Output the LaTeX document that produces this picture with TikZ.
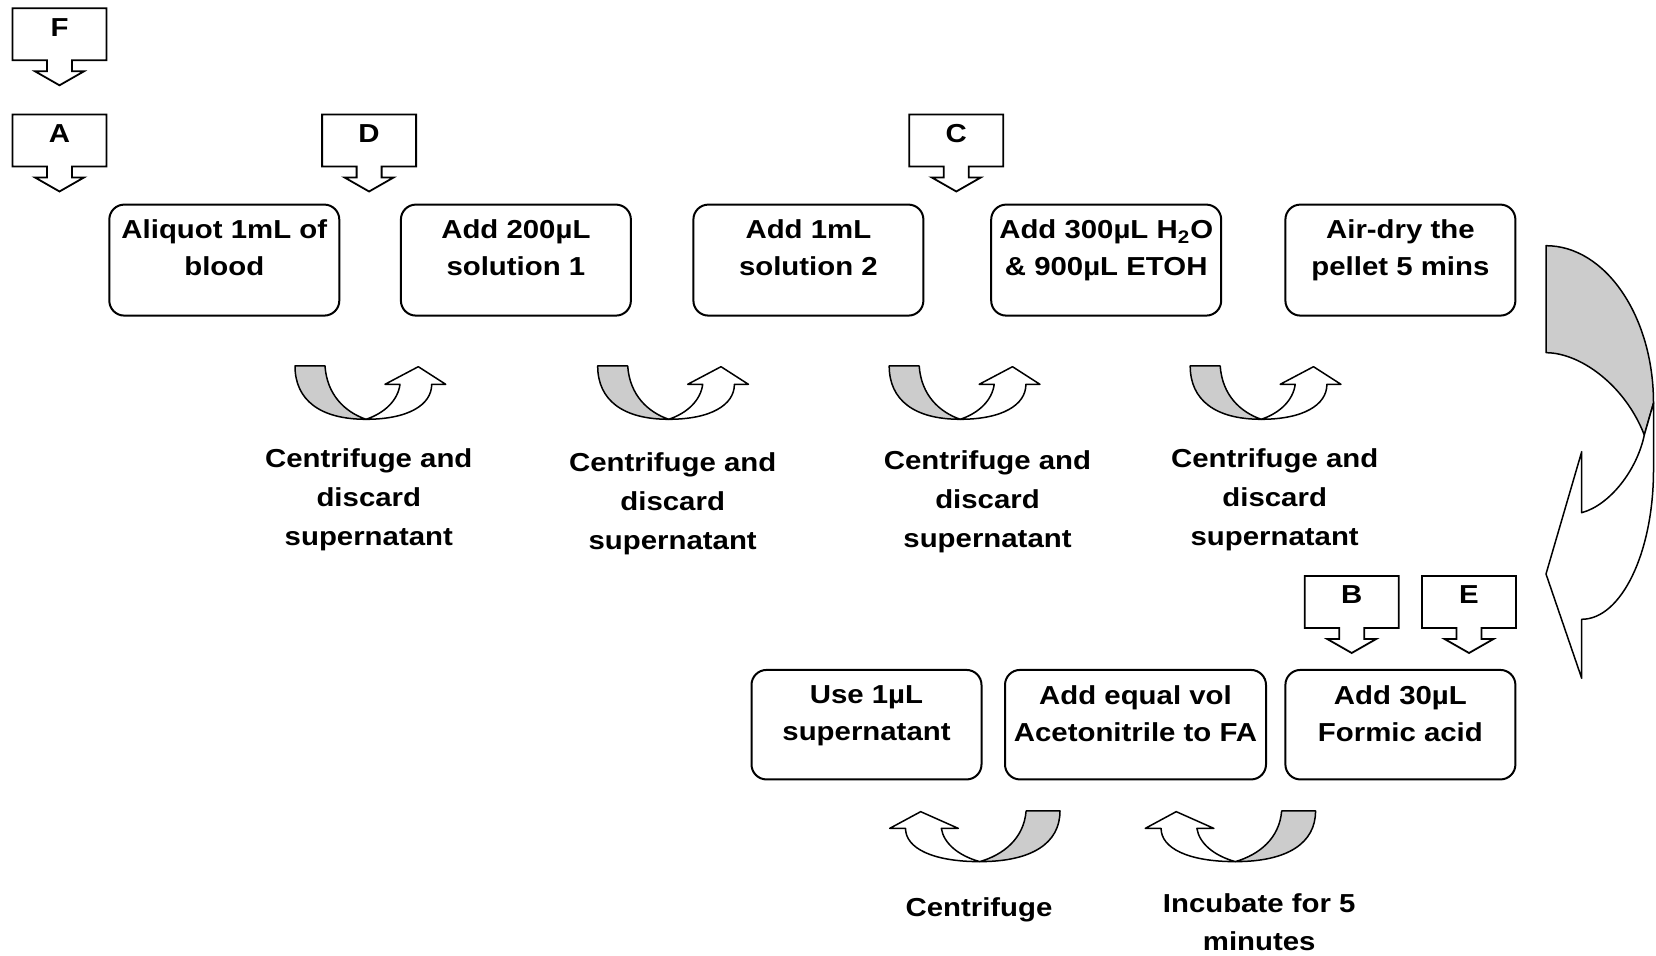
\documentclass[tikz,border=0pt]{standalone}
\usepackage{fontspec}
\setmainfont{Liberation Sans}[FakeStretch=1.13]
\definecolor{lgray}{HTML}{CCCCCC}
\newcommand\mycallout[4]{% name, cx, top, letter
  \draw[callout] (#2-47,#3) -- (#2+47,#3) -- (#2+47,#3+52) -- (#2+12.5,#3+52) -- (#2+12.5,#3+63)
     -- (#2+24.5,#3+63) -- (#2,#3+77) -- (#2-24.5,#3+63) -- (#2-12.5,#3+63) -- (#2-12.5,#3+52)
     -- (#2-47,#3+52) -- cycle;
  \node[letter] (#1) at (#2,#3+28) {#4};
}
\newcommand\myuturn{%
  \draw[uarr, fill=lgray] (15,16) .. controls (15,50) and (40,69.3) .. (86,69.3)
     .. controls (65,62) and (47,45) .. (45,16) -- cycle;
  \draw[uarr, fill=white] (86,69.3) .. controls (128,69.3) and (151.7,55) .. (151.7,34.3)
     -- (165.7,34.3) -- (138.3,16.7) -- (105,34.3) -- (120,34.3)
     .. controls (118,50) and (105,63) .. (86,69.3) -- cycle;
}
\begin{document}
\begin{tikzpicture}[x=0.5pt,y=-0.5pt,
  box/.style={draw, line width=1pt, rounded corners=7.5pt, minimum width=115pt, minimum height=55.5pt, inner sep=0pt},
  boxtext/.style={anchor=north, align=center, inner sep=0pt, font=\fontsize{13}{18.5}\selectfont\bfseries},
  lbl/.style={anchor=north, align=center, inner sep=0pt, font=\fontsize{13}{19.5}\selectfont\bfseries},
  lblb/.style={anchor=north, align=center, inner sep=0pt, font=\fontsize{13}{19}\selectfont\bfseries},
  letter/.style={anchor=base, inner sep=0pt, font=\fontsize{13}{15}\selectfont\bfseries},
  callout/.style={draw, line width=0.9pt, line join=miter, fill=white},
  uarr/.style={draw, line width=0.75pt, line join=round}]
\useasboundingbox (0,0) rectangle (1656,956);

% process boxes, top row
\node[box] (b1) at (224.3,260.1) {};
\node[box] (b2) at (515.9,260.1) {};
\node[box] (b3) at (808.4,260.1) {};
\node[box] (b4) at (1106.2,260.1) {};
\node[box] (b5) at (1400.4,260.1) {};
% bottom row
\node[box, minimum height=54.75pt] (c1) at (866.5,724.7) {};
\node[box, minimum width=130.5pt, minimum height=54.75pt] (c2) at (1135.5,724.7) {};
\node[box, minimum height=54.75pt] (c3) at (1400.4,724.7) {};

\node[boxtext] (t1) at ([yshift=-8pt]b1.north) {Aliquot 1mL of\\blood};
\node[boxtext] (t2) at ([yshift=-8pt]b2.north) {Add 200µL\\solution 1};
\node[boxtext] (t3) at ([yshift=-8pt]b3.north) {Add 1mL\\solution 2};
\node[boxtext] (t4) at ([yshift=-8pt]b4.north) {Add 300µL H\textsubscript{2}O\\\& 900µL ETOH};
\node[boxtext] (t5) at ([yshift=-8pt]b5.north) {Air-dry the\\pellet 5 mins};
\node[boxtext] (u1) at ([yshift=-8pt]c1.north) {Use 1µL\\supernatant};
\node[boxtext] (u2) at ([yshift=-8pt]c2.north) {Add equal vol\\Acetonitrile to FA};
\node[boxtext] (u3) at ([yshift=-8pt]c3.north) {Add 30µL\\Formic acid};

% callouts
\mycallout{cF}{59.5}{8.3}{F}
\mycallout{cA}{59.5}{114.5}{A}
\mycallout{cD}{369.1}{114.5}{D}
\mycallout{cC}{956.3}{114.5}{C}
\mycallout{cB}{1351.7}{576}{B}
\mycallout{cE}{1469}{576}{E}

% U-turn arrows, top row
\begin{scope}[shift={(280,350)}]\myuturn\end{scope}
\begin{scope}[shift={(582.7,350)}]\myuturn\end{scope}
\begin{scope}[shift={(874.2,350)}]\myuturn\end{scope}
\begin{scope}[shift={(1175.2,350)}]\myuturn\end{scope}
% bottom row (mirrored)
\begin{scope}[shift={(1076.95,795.8)}, xscale=-1.13, yscale=0.95]\myuturn\end{scope}
\begin{scope}[shift={(1332.5,795.8)}, xscale=-1.13, yscale=0.95]\myuturn\end{scope}

% labels
\node[lbl] (l1) at (368.8,448) {Centrifuge and\\discard\\supernatant};
\node[lbl] (l2) at (672.7,452.2) {Centrifuge and\\discard\\supernatant};
\node[lbl] (l3) at (987.5,450) {Centrifuge and\\discard\\supernatant};
\node[lbl] (l4) at (1274.7,448) {Centrifuge and\\discard\\supernatant};
\node[lblb] (l5) at (979,897) {Centrifuge};
\node[lblb] (l6) at (1259.2,893.5) {Incubate for 5\\minutes};

% big curved arrow on the right
\draw[uarr, fill=lgray] (1546,245.7) .. controls (1605.3,245.7) and (1653.5,316.2) .. (1653.5,403)
   -- (1644.3,435) .. controls (1625,385) and (1580,352.7) .. (1546,352.7) -- cycle;
\draw[uarr, fill=white] (1644.3,435) -- (1653.5,403) -- (1653.5,470)
   .. controls (1653.5,552.4) and (1621.3,619.3) .. (1581.7,619.3)
   -- (1581.7,678.3) -- (1546,574) -- (1581.7,451.7) -- (1581.7,512.7)
   .. controls (1610,505) and (1637,470) .. (1644.3,435) -- cycle;
\end{tikzpicture}
\end{document}
